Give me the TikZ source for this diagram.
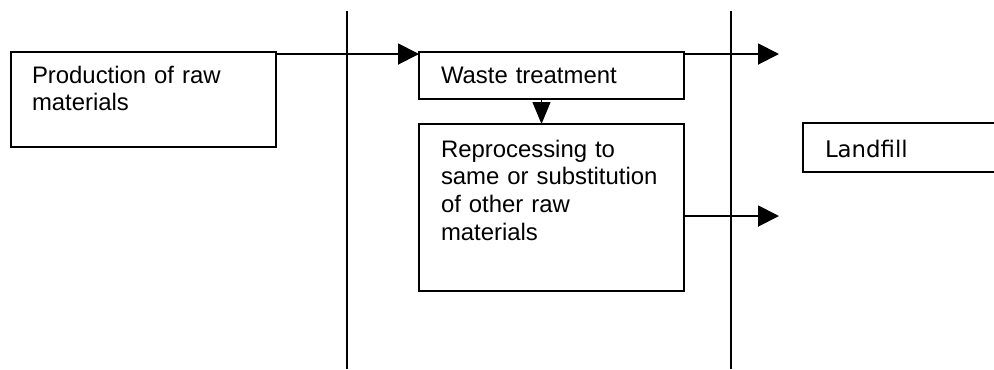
\documentclass[tikz,border=0pt]{standalone}
\usepackage{fontspec}
\setmainfont{Liberation Sans}
\newfontfamily\landfont{DejaVu Sans}
\usetikzlibrary{arrows.meta}
\usetikzlibrary{calc}
\newlength\pxunit
\setlength\pxunit{0.02cm}

\begin{document}
\begin{tikzpicture}[
    x=0.02cm, y=-0.02cm,
    stagebox/.style={
      draw, line width=0.85pt, anchor=north west, outer sep=0pt,
      inner ysep=0pt, inner xsep=22\pxunit, align=left,
      font=\fontsize{13.6}{15.9}\selectfont
    },
    flow/.style={
      line width=1.1pt, -{Triangle[length=0.42cm, width=0.42cm]}
    },
    divider/.style={line width=0.75pt}
  ]
    \useasboundingbox (0,0) rectangle (994,369);
    \clip (0,0) rectangle (994,369);

    \node[stagebox, text width=223\pxunit, inner xsep=21\pxunit,
      text height=31\pxunit, text depth=64\pxunit] (prod) at (11,52)
      {Production of raw\\materials};
    \node[stagebox, text width=221\pxunit,
      text height=31\pxunit, text depth=16\pxunit] (waste) at (419,52)
      {Waste treatment};
    \node[stagebox, text width=221\pxunit,
      text height=33\pxunit, text depth=134\pxunit] (reproc) at (419,124)
      {Reprocessing to\\same or substitution\\of other raw\\materials};
    \node[stagebox, text width=163\pxunit, font={\landfont\fontsize{13}{15}\selectfont},
      text height=34\pxunit, text depth=15\pxunit] (landfill) at (803,123)
      {Landfill};

    \coordinate (divAtop) at (347,11);
    \coordinate (divAbot) at (347,369);
    \coordinate (divBtop) at (731,11);
    \coordinate (divBbot) at (731,369);
    \coordinate (outTop) at (779,54);
    \coordinate (outLow) at (779,216);

    \draw[divider] (divAtop) -- (divAbot);
    \draw[divider] (divBtop) -- (divBbot);

    \draw[flow] (prod.north east |- outTop) -- (waste.north west |- outTop);
    \draw[flow] (waste.north east |- outTop) -- (outTop);
    \draw[flow, line width=0.75pt, -{Triangle[length=0.44cm, width=0.36cm]}]
      ([xshift=-10\pxunit]waste.south) -- ([xshift=-10\pxunit]reproc.north);
    \draw[flow] (reproc.east |- outLow) -- (outLow);
  \end{tikzpicture}
\end{document}
